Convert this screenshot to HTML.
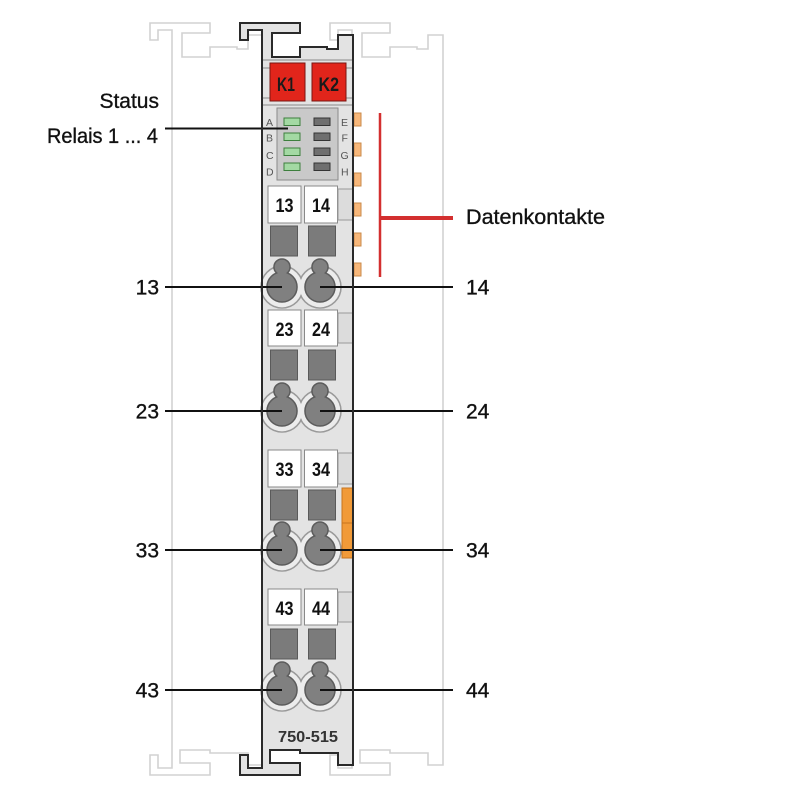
<!DOCTYPE html>
<html><head><meta charset="utf-8"><style>
html,body{margin:0;padding:0;background:#fff;}
svg{display:block;}
text{font-family:"Liberation Sans",Arial,sans-serif;}
.lbl{font-size:21px;fill:#111;stroke:#111;stroke-width:0.35;}
</style></head><body>
<svg width="800" height="800" viewBox="0 0 800 800" xmlns="http://www.w3.org/2000/svg">
<rect width="800" height="800" fill="#fff"/>
<!-- ghost modules -->
<polygon points="150,23 210,23 210,33 182,33 182,57 210,57 210,47 237,47 237,49 248,49 248,35 263,35 263,765 248,765 248,753 210,753 210,750 180,750 180,763 210,763 210,775 150,775 150,755 158,755 158,768 172,768 172,30 158,30 158,40 150,40" fill="none" stroke="#d2d2d2" stroke-width="1.6"/>
<polygon points="330,23 390,23 390,33 362,33 362,57 390,57 390,47 417,47 417,49 428,49 428,35 443,35 443,765 428,765 428,753 390,753 390,750 360,750 360,763 390,763 390,775 330,775 330,755 338,755 338,768 352,768 352,30 338,30 338,40 330,40" fill="none" stroke="#d2d2d2" stroke-width="1.6"/>
<!-- main module -->
<polygon points="240,23 300,23 300,33 272,33 272,57 300,57 300,47 327,47 327,49 338,49 338,35 353,35 353,765 338,765 338,753 300,753 300,750 270,750 270,763 300,763 300,775 240,775 240,755 248,755 248,768 262,768 262,30 248,30 248,40 240,40" fill="#e3e3e3" stroke="#2a2a2a" stroke-width="2"/>
<line x1="262" y1="60" x2="353" y2="60" stroke="#8a8a8a" stroke-width="1"/>
<line x1="262" y1="68" x2="270" y2="68" stroke="#8a8a8a" stroke-width="1"/>
<line x1="346" y1="68" x2="353" y2="68" stroke="#8a8a8a" stroke-width="1"/>
<line x1="262" y1="98" x2="270" y2="98" stroke="#8a8a8a" stroke-width="1"/>
<line x1="346" y1="98" x2="353" y2="98" stroke="#8a8a8a" stroke-width="1"/>
<line x1="262" y1="105" x2="353" y2="105" stroke="#8a8a8a" stroke-width="1"/>
<!-- K1 K2 -->
<rect x="270" y="63" width="35" height="38" fill="#e1251b" stroke="#7a1510" stroke-width="1"/>
<rect x="312" y="63" width="34" height="38" fill="#e1251b" stroke="#7a1510" stroke-width="1"/>
<text x="277" y="91" font-size="19" font-weight="bold" fill="#1a1a1a" textLength="18" lengthAdjust="spacingAndGlyphs">K1</text>
<text x="318.5" y="91" font-size="19" font-weight="bold" fill="#1a1a1a" textLength="20.5" lengthAdjust="spacingAndGlyphs">K2</text>
<!-- LED panel -->
<rect x="277" y="108" width="61" height="72" fill="#c9c9c9" stroke="#8a8a8a" stroke-width="1"/>
<g fill="#a3d9a3" stroke="#3d7f3d" stroke-width="1">
<rect x="284" y="118" width="16" height="7.5"/>
<rect x="284" y="133" width="16" height="7.5"/>
<rect x="284" y="148" width="16" height="7.5"/>
<rect x="284" y="163" width="16" height="7.5"/>
</g>
<g fill="#6f6f6f" stroke="#333" stroke-width="1">
<rect x="314" y="118" width="16" height="7.5"/>
<rect x="314" y="133" width="16" height="7.5"/>
<rect x="314" y="148" width="16" height="7.5"/>
<rect x="314" y="163" width="16" height="7.5"/>
</g>
<g font-size="10.5" fill="#555">
<text x="266" y="126">A</text><text x="266" y="141.5">B</text><text x="266" y="159">C</text><text x="266" y="175.5">D</text>
<text x="341" y="126">E</text><text x="341.5" y="141.5">F</text><text x="340.5" y="159">G</text><text x="341" y="175.5">H</text>
</g>
<!-- data contacts -->
<g fill="#f7b77a" stroke="#c98a4a" stroke-width="1">
<rect x="354" y="113" width="7" height="13"/>
<rect x="354" y="143" width="7" height="13"/>
<rect x="354" y="173" width="7" height="13"/>
<rect x="354" y="203" width="7" height="13"/>
<rect x="354" y="233" width="7" height="13"/>
<rect x="354" y="263" width="7" height="13"/>
</g>
<line x1="380" y1="113" x2="380" y2="277" stroke="#d32f2f" stroke-width="2.5"/>
<line x1="380" y1="218" x2="453" y2="218" stroke="#d32f2f" stroke-width="4"/>
<text class="lbl" x="466" y="224" textLength="139" lengthAdjust="spacingAndGlyphs">Datenkontakte</text>
<!-- Status label -->
<text class="lbl" x="159" y="108" text-anchor="end">Status</text>
<text class="lbl" x="158" y="143" text-anchor="end" textLength="111" lengthAdjust="spacingAndGlyphs">Relais 1 ... 4</text>
<line x1="165" y1="128.5" x2="288" y2="128.5" stroke="#111" stroke-width="2"/>

<!-- row 13/14 C=287 -->
<g>
<rect x="268" y="186" width="33" height="37" fill="#fff" stroke="#8a8a8a"/>
<rect x="304.5" y="186" width="33" height="37" fill="#fff" stroke="#8a8a8a"/>
<rect x="338" y="189" width="15" height="31" fill="#dcdcdc" stroke="#9a9a9a"/>
<rect x="270.5" y="226" width="27" height="30" fill="#7b7b7b" stroke="#5a5a5a"/>
<rect x="308.5" y="226" width="27" height="30" fill="#7b7b7b" stroke="#5a5a5a"/>
<circle cx="282" cy="287" r="21" fill="none" stroke="#9a9a9a" stroke-width="1.6"/>
<circle cx="320" cy="287" r="21" fill="none" stroke="#9a9a9a" stroke-width="1.6"/>
<circle cx="282" cy="287" r="20.2" fill="#ececec"/>
<circle cx="320" cy="287" r="20.2" fill="#ececec"/>
<g stroke="#5c5c5c" stroke-width="1.6" fill="#5c5c5c"><circle cx="282" cy="287" r="15"/><circle cx="282" cy="267" r="8"/><rect x="277" y="267" width="10" height="20"/><circle cx="320" cy="287" r="15"/><circle cx="320" cy="267" r="8"/><rect x="315" y="267" width="10" height="20"/></g>
<g fill="#808080"><circle cx="282" cy="287" r="14.3"/><circle cx="282" cy="267" r="7.3"/><rect x="277.7" y="267" width="8.6" height="20"/><circle cx="320" cy="287" r="14.3"/><circle cx="320" cy="267" r="7.3"/><rect x="315.7" y="267" width="8.6" height="20"/></g>
<text x="275.5" y="212" font-size="19" font-weight="bold" fill="#111" textLength="18" lengthAdjust="spacingAndGlyphs">13</text>
<text x="312" y="212" font-size="19" font-weight="bold" fill="#111" textLength="18" lengthAdjust="spacingAndGlyphs">14</text>
<line x1="165" y1="287" x2="282" y2="287" stroke="#111" stroke-width="2"/>
<line x1="320" y1="287" x2="453" y2="287" stroke="#111" stroke-width="2"/>
<text class="lbl" x="159" y="294.5" text-anchor="end">13</text>
<text class="lbl" x="466" y="294.5">14</text>
</g>

<!-- row 23/24 C=411 -->
<g>
<rect x="268" y="310" width="33" height="36" fill="#fff" stroke="#8a8a8a"/>
<rect x="304.5" y="310" width="33" height="36" fill="#fff" stroke="#8a8a8a"/>
<rect x="338" y="313" width="15" height="30" fill="#dcdcdc" stroke="#9a9a9a"/>
<rect x="270.5" y="350" width="27" height="30" fill="#7b7b7b" stroke="#5a5a5a"/>
<rect x="308.5" y="350" width="27" height="30" fill="#7b7b7b" stroke="#5a5a5a"/>
<circle cx="282" cy="411" r="21" fill="none" stroke="#9a9a9a" stroke-width="1.6"/>
<circle cx="320" cy="411" r="21" fill="none" stroke="#9a9a9a" stroke-width="1.6"/>
<circle cx="282" cy="411" r="20.2" fill="#ececec"/>
<circle cx="320" cy="411" r="20.2" fill="#ececec"/>
<g stroke="#5c5c5c" stroke-width="1.6" fill="#5c5c5c"><circle cx="282" cy="411" r="15"/><circle cx="282" cy="391" r="8"/><rect x="277" y="391" width="10" height="20"/><circle cx="320" cy="411" r="15"/><circle cx="320" cy="391" r="8"/><rect x="315" y="391" width="10" height="20"/></g>
<g fill="#808080"><circle cx="282" cy="411" r="14.3"/><circle cx="282" cy="391" r="7.3"/><rect x="277.7" y="391" width="8.6" height="20"/><circle cx="320" cy="411" r="14.3"/><circle cx="320" cy="391" r="7.3"/><rect x="315.7" y="391" width="8.6" height="20"/></g>
<text x="275.5" y="336" font-size="19" font-weight="bold" fill="#111" textLength="18" lengthAdjust="spacingAndGlyphs">23</text>
<text x="312" y="336" font-size="19" font-weight="bold" fill="#111" textLength="18" lengthAdjust="spacingAndGlyphs">24</text>
<line x1="165" y1="411" x2="282" y2="411" stroke="#111" stroke-width="2"/>
<line x1="320" y1="411" x2="453" y2="411" stroke="#111" stroke-width="2"/>
<text class="lbl" x="159" y="418.5" text-anchor="end">23</text>
<text class="lbl" x="466" y="418.5">24</text>
</g>

<!-- row 33/34 C=550 -->
<g>
<rect x="268" y="450" width="33" height="37" fill="#fff" stroke="#8a8a8a"/>
<rect x="304.5" y="450" width="33" height="37" fill="#fff" stroke="#8a8a8a"/>
<rect x="338" y="453" width="15" height="31" fill="#dcdcdc" stroke="#9a9a9a"/>
<rect x="270.5" y="490" width="27" height="30" fill="#7b7b7b" stroke="#5a5a5a"/>
<rect x="308.5" y="490" width="27" height="30" fill="#7b7b7b" stroke="#5a5a5a"/>
<circle cx="282" cy="550" r="21" fill="none" stroke="#9a9a9a" stroke-width="1.6"/>
<circle cx="320" cy="550" r="21" fill="none" stroke="#9a9a9a" stroke-width="1.6"/>
<circle cx="282" cy="550" r="20.2" fill="#ececec"/>
<circle cx="320" cy="550" r="20.2" fill="#ececec"/>
<g stroke="#5c5c5c" stroke-width="1.6" fill="#5c5c5c"><circle cx="282" cy="550" r="15"/><circle cx="282" cy="530" r="8"/><rect x="277" y="530" width="10" height="20"/><circle cx="320" cy="550" r="15"/><circle cx="320" cy="530" r="8"/><rect x="315" y="530" width="10" height="20"/></g>
<g fill="#808080"><circle cx="282" cy="550" r="14.3"/><circle cx="282" cy="530" r="7.3"/><rect x="277.7" y="530" width="8.6" height="20"/><circle cx="320" cy="550" r="14.3"/><circle cx="320" cy="530" r="7.3"/><rect x="315.7" y="530" width="8.6" height="20"/></g>
<rect x="342" y="488" width="11" height="70" fill="#f19a38" stroke="#c7741e" stroke-width="1"/>
<line x1="342" y1="523" x2="353" y2="523" stroke="#c7741e" stroke-width="1"/>
<text x="275.5" y="476" font-size="19" font-weight="bold" fill="#111" textLength="18" lengthAdjust="spacingAndGlyphs">33</text>
<text x="312" y="476" font-size="19" font-weight="bold" fill="#111" textLength="18" lengthAdjust="spacingAndGlyphs">34</text>
<line x1="165" y1="550" x2="282" y2="550" stroke="#111" stroke-width="2"/>
<line x1="320" y1="550" x2="453" y2="550" stroke="#111" stroke-width="2"/>
<text class="lbl" x="159" y="557.5" text-anchor="end">33</text>
<text class="lbl" x="466" y="557.5">34</text>
</g>

<!-- row 43/44 C=690 -->
<g>
<rect x="268" y="589" width="33" height="36" fill="#fff" stroke="#8a8a8a"/>
<rect x="304.5" y="589" width="33" height="36" fill="#fff" stroke="#8a8a8a"/>
<rect x="338" y="592" width="15" height="30" fill="#dcdcdc" stroke="#9a9a9a"/>
<rect x="270.5" y="629" width="27" height="30" fill="#7b7b7b" stroke="#5a5a5a"/>
<rect x="308.5" y="629" width="27" height="30" fill="#7b7b7b" stroke="#5a5a5a"/>
<circle cx="282" cy="690" r="21" fill="none" stroke="#9a9a9a" stroke-width="1.6"/>
<circle cx="320" cy="690" r="21" fill="none" stroke="#9a9a9a" stroke-width="1.6"/>
<circle cx="282" cy="690" r="20.2" fill="#ececec"/>
<circle cx="320" cy="690" r="20.2" fill="#ececec"/>
<g stroke="#5c5c5c" stroke-width="1.6" fill="#5c5c5c"><circle cx="282" cy="690" r="15"/><circle cx="282" cy="670" r="8"/><rect x="277" y="670" width="10" height="20"/><circle cx="320" cy="690" r="15"/><circle cx="320" cy="670" r="8"/><rect x="315" y="670" width="10" height="20"/></g>
<g fill="#808080"><circle cx="282" cy="690" r="14.3"/><circle cx="282" cy="670" r="7.3"/><rect x="277.7" y="670" width="8.6" height="20"/><circle cx="320" cy="690" r="14.3"/><circle cx="320" cy="670" r="7.3"/><rect x="315.7" y="670" width="8.6" height="20"/></g>
<text x="275.5" y="615" font-size="19" font-weight="bold" fill="#111" textLength="18" lengthAdjust="spacingAndGlyphs">43</text>
<text x="312" y="615" font-size="19" font-weight="bold" fill="#111" textLength="18" lengthAdjust="spacingAndGlyphs">44</text>
<line x1="165" y1="690" x2="282" y2="690" stroke="#111" stroke-width="2"/>
<line x1="320" y1="690" x2="453" y2="690" stroke="#111" stroke-width="2"/>
<text class="lbl" x="159" y="697.5" text-anchor="end">43</text>
<text class="lbl" x="466" y="697.5">44</text>
</g>

<!-- body edge redraw -->
<line x1="262" y1="30" x2="262" y2="768" stroke="#2a2a2a" stroke-width="2"/>
<line x1="353" y1="35" x2="353" y2="765" stroke="#2a2a2a" stroke-width="2"/>
<text x="278" y="742" font-size="16" font-weight="bold" fill="#333" textLength="60" lengthAdjust="spacingAndGlyphs">750-515</text>
</svg>
</body></html>
